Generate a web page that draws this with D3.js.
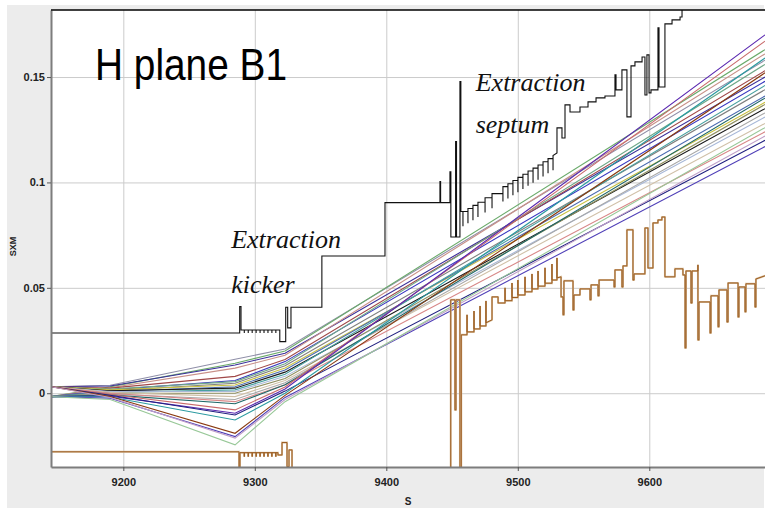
<!DOCTYPE html>
<html>
<head>
<meta charset="utf-8">
<script src="https://cdn.jsdelivr.net/npm/d3@7"></script>
<style>
  body { margin: 0; background: #fff; }
  svg { display: block; }
</style>
</head>
<body>
<div id="chart"></div>
<script>
// ---------- data ----------
const xTicks = [9200, 9300, 9400, 9500, 9600];
const yTicks = [0, 0.05, 0.1, 0.15];
const yTickLabels = ['0', '0.05', '0.1', '0.15'];

// orbit bundle: values of each trajectory at these s positions
const orbitS = [9145, 9190, 9285, 9323, 9688];
const orbitValues = [
  [0.0031, 0.0038, 0.0161, 0.021, 0.158],
  [-0.0016, 0.0030, 0.0142, 0.020, 0.163],
  [0.0031, 0.0034, 0.0134, 0.019, 0.150],
  [-0.0016, 0.0026, 0.0119, 0.018, 0.161],
  [0.0031, 0.0024, 0.0080, 0.016, 0.153],
  [-0.0016, 0.0016, 0.0060, 0.015, 0.148],
  [0.0031, 0.0020, 0.0055, 0.014, 0.156],
  [-0.0016, 0.0012, 0.0047, 0.013, 0.144],
  [0.0031, 0.0016, 0.0039, 0.012, 0.138],
  [-0.0016, 0.0008, 0.0031, 0.011, 0.141],
  [0.0031, 0.0012, 0.0024, 0.010, 0.135],
  [-0.0016, 0.0004, 0.0016, 0.009, 0.146],
  [0.0031, 0.0008, 0.0008, 0.008, 0.131],
  [-0.0016, 0.0000, 0.0000, 0.007, 0.137],
  [0.0031, 0.0004, -0.0016, 0.006, 0.128],
  [-0.0016, -0.0004, -0.0030, 0.005, 0.133],
  [0.0031, 0.0000, -0.0040, 0.004, 0.124],
  [-0.0016, -0.0008, -0.0050, 0.004, 0.140],
  [0.0031, -0.0006, -0.0079, 0.003, 0.167],
  [-0.0016, -0.0014, -0.0095, 0.002, 0.170],
  [0.0031, -0.0010, -0.0103, 0.001, 0.120],
  [-0.0016, -0.0018, -0.0127, 0.000, 0.159],
  [0.0031, -0.0016, -0.0190, -0.001, 0.152],
  [-0.0016, -0.0024, -0.0206, -0.002, 0.117],
  [0.0031, -0.0020, -0.0213, -0.003, 0.122],
  [-0.0016, -0.0030, -0.0245, -0.004, 0.126]
];
const orbitColors = [
  '#8f8fa8', '#6aaa6a', '#3b2f9a', '#c89088', '#a04848', '#3838c0',
  '#70a888', '#7f7f7f', '#c8c040', '#4a6ab0', '#1a1a1a', '#48a0a0',
  '#a8b8d8', '#909060', '#d0c0a8', '#a8a8a8', '#d88888', '#206868',
  '#c86a6a', '#5a28b0', '#202080', '#2a9aa0', '#8a3a10', '#5040b8',
  '#c0a0c8', '#98c898'
];

// upper aperture (black): step vertices [s, y] and comb teeth [s, level, tip]
const blackStart = [[9145, 0.0286], [9288.5, 0.0286], [9288.5, 0.0411], [9289.5, 0.0411], [9289.5, 0.0300]];
const blackKickerTeeth = [
  [9292, 0.030, 0.0286], [9295, 0.030, 0.0286], [9298, 0.030, 0.0286], [9301, 0.030, 0.0286],
  [9304, 0.030, 0.0286], [9307, 0.030, 0.0286], [9310, 0.030, 0.0286], [9313, 0.030, 0.0286],
  [9316, 0.030, 0.0286]
];
const blackMid = [
  [9319, 0.030], [9319, 0.0245], [9323.5, 0.0245], [9323.5, 0.0408], [9325, 0.0408], [9325, 0.031],
  [9327.5, 0.031], [9327.5, 0.0408], [9351, 0.0408], [9351, 0.0651], [9399, 0.0651], [9399, 0.0904],
  [9440.8, 0.0904], [9440.8, 0.1004], [9441.3, 0.1004], [9441.3, 0.0904], [9448.4, 0.0904],
  [9448.4, 0.1051], [9449.1, 0.1051], [9449.1, 0.0741], [9452.7, 0.0741], [9452.7, 0.1194],
  [9453.4, 0.1194], [9453.4, 0.0741], [9456, 0.0741], [9456, 0.1478], [9456.7, 0.1478], [9456.7, 0.0862]
];
const blackSeptumTeeth = [
  [9458.3, 0.0862, 0.0792], [9462.1, 0.0876, 0.0806], [9465.9, 0.0891, 0.0821], [9469.7, 0.0906, 0.0836],
  [9475.1, 0.0927, 0.0857], [9480.4, 0.0947, 0.0877], [9488.7, 0.0980, 0.0910], [9492.5, 0.0994, 0.0924],
  [9496.3, 0.1009, 0.0939], [9500.1, 0.1024, 0.0954], [9503.9, 0.1039, 0.0969], [9507.8, 0.1054, 0.0984],
  [9511.6, 0.1068, 0.0998], [9515.4, 0.1083, 0.1013], [9519.2, 0.1098, 0.1028], [9523.0, 0.1113, 0.1043],
  [9526.8, 0.1128, 0.1058]
];
const blackEnd = [
  [9529.8, 0.1140], [9529.8, 0.1259], [9533.6, 0.1259], [9533.6, 0.1211], [9535.9, 0.1211], [9535.9, 0.1368],
  [9539.7, 0.1368], [9539.7, 0.1334], [9547.3, 0.1334], [9547.3, 0.1358], [9553.4, 0.1358], [9553.4, 0.1382],
  [9559.5, 0.1382], [9559.5, 0.1401], [9566.3, 0.1401], [9566.3, 0.1410], [9573.9, 0.1410], [9573.9, 0.1510],
  [9574.7, 0.1510], [9574.7, 0.1439], [9579.2, 0.1439], [9579.2, 0.1534], [9583.0, 0.1534], [9583.0, 0.1311],
  [9586.1, 0.1311], [9586.1, 0.1553], [9589.1, 0.1553], [9589.1, 0.1572], [9594.5, 0.1572], [9594.5, 0.1595],
  [9596.7, 0.1595], [9596.7, 0.1415], [9598.2, 0.1415], [9598.2, 0.1605], [9599.8, 0.1605], [9599.8, 0.1425],
  [9601.3, 0.1425], [9601.3, 0.1439], [9606.6, 0.1439], [9606.6, 0.1733], [9607.4, 0.1733], [9607.4, 0.1453],
  [9611.9, 0.1453], [9611.9, 0.1752], [9617.3, 0.1752], [9617.3, 0.1771], [9623.4, 0.1771], [9623.4, 0.1785],
  [9624.9, 0.1785], [9624.9, 0.19], [9688, 0.19]
];

// lower aperture (brown)
const brownStart = [[9145, -0.0278], [9288.0, -0.0278], [9288.0, -0.040], [9288.7, -0.040], [9288.7, -0.0282]];
const brownKickerTeeth = [
  [9292, -0.0282, -0.0301], [9295, -0.0282, -0.0301], [9298, -0.0282, -0.0301], [9301, -0.0282, -0.0301],
  [9304, -0.0282, -0.0301], [9307, -0.0282, -0.0301], [9310, -0.0282, -0.0301], [9313, -0.0282, -0.0301],
  [9316, -0.0282, -0.0301]
];
const brownMid = [
  [9317.6, -0.0282], [9317.6, -0.0293], [9320.7, -0.0293], [9320.7, -0.0234], [9324.5, -0.0234],
  [9324.5, -0.0349], [9326.0, -0.0349], [9326.0, -0.0269], [9328.3, -0.0269], [9328.3, -0.06],
  [9449.0, -0.06], [9449.0, 0.0443], [9452.2, 0.0443], [9452.2, -0.0079], [9453.0, -0.0079],
  [9453.0, 0.0443], [9456.0, 0.0443], [9456.0, -0.06], [9457.0, -0.06], [9457.0, 0.0277]
];
const brownTeethA = [
  [9461.4, 0.0291, 0.0372], [9466.7, 0.0305, 0.0390], [9471.3, 0.0319, 0.0414], [9475.8, 0.0334, 0.0438]
];
const brownBox = [[9480.4, 0.0348], [9480.4, 0.0457], [9485.0, 0.0457], [9485.0, 0.0428]];
const brownTeethB = [
  [9490.3, 0.0439, 0.0500], [9495.6, 0.0454, 0.0523], [9500.1, 0.0466, 0.0537], [9505.5, 0.0481, 0.0552],
  [9510.8, 0.0495, 0.0566], [9515.4, 0.0508, 0.0580], [9520.7, 0.0522, 0.0595], [9526.0, 0.0537, 0.0613],
  [9529.8, 0.0547, 0.0642]
];
const brownEnd = [
  [9532.9, 0.0552], [9532.9, 0.0457], [9534.4, 0.0457], [9534.4, 0.0372], [9535.1, 0.0372], [9535.1, 0.0533],
  [9542.0, 0.0533], [9542.0, 0.0395], [9542.7, 0.0395], [9542.7, 0.0466], [9547.3, 0.0466], [9547.3, 0.0495],
  [9554.9, 0.0495], [9554.9, 0.0443], [9555.7, 0.0443], [9555.7, 0.0514], [9561.0, 0.0514], [9561.0, 0.0462],
  [9561.8, 0.0462], [9561.8, 0.0537], [9573.2, 0.0537], [9573.2, 0.0504], [9573.9, 0.0504], [9573.9, 0.0585],
  [9579.2, 0.0585], [9579.2, 0.0504], [9580.0, 0.0504], [9580.0, 0.0604], [9583.0, 0.0604], [9583.0, 0.0775],
  [9587.6, 0.0775], [9587.6, 0.0537], [9588.4, 0.0537], [9588.4, 0.0566], [9596.7, 0.0566], [9596.7, 0.0784],
  [9599.0, 0.0784], [9599.0, 0.0594], [9602.8, 0.0594], [9602.8, 0.0808], [9606.6, 0.0808], [9606.6, 0.0822],
  [9609.6, 0.0822], [9609.6, 0.0836], [9611.9, 0.0836], [9611.9, 0.0552], [9619.5, 0.0552], [9619.5, 0.0590],
  [9625.6, 0.0590], [9625.6, 0.0561], [9627.2, 0.0561], [9627.2, 0.0215], [9627.9, 0.0215], [9627.9, 0.0580],
  [9631.7, 0.0580], [9631.7, 0.0428], [9632.5, 0.0428], [9632.5, 0.0580], [9637.0, 0.0580], [9637.0, 0.0609],
  [9637.0, 0.0253], [9637.8, 0.0253], [9637.8, 0.0433], [9646.2, 0.0433], [9646.2, 0.0286], [9646.9, 0.0286],
  [9646.9, 0.0462], [9652.3, 0.0462], [9652.3, 0.0315], [9653.0, 0.0315], [9653.0, 0.0490], [9659.1, 0.0490],
  [9659.1, 0.0338], [9659.9, 0.0338], [9659.9, 0.0523], [9667.5, 0.0523], [9667.5, 0.0362], [9668.2, 0.0362],
  [9668.2, 0.0504], [9672.8, 0.0504], [9672.8, 0.0386], [9673.5, 0.0386], [9673.5, 0.0519], [9680.4, 0.0519],
  [9680.4, 0.0409], [9681.1, 0.0409], [9681.1, 0.0542], [9688, 0.0557]
];

// annotations (data coordinates of the text anchors)
const notes = [
  { text: 'Extraction', s: 9282, y: 0.0687 },
  { text: 'kicker', s: 9282, y: 0.0474 },
  { text: 'Extraction', s: 9468, y: 0.1432 },
  { text: 'septum', s: 9468, y: 0.1235 }
];

// ---------- chart ----------
const width = 765;
const height = 508;
const margin = { top: 10, right: 0, bottom: 41, left: 51 };

const usableArea = {
  top: margin.top,
  right: width - margin.right,
  bottom: height - margin.bottom,
  left: margin.left,
  width: width - margin.left - margin.right,
  height: height - margin.top - margin.bottom,
};

const svg = d3.select('#chart').append('svg')
  .attr('width', width)
  .attr('height', height);

// gray panel behind everything
svg.append('rect')
  .attr('x', 7).attr('y', 5)
  .attr('width', width - 8).attr('height', height - 5)
  .attr('fill', '#ececec');

svg.append('rect')
  .attr('x', usableArea.left).attr('y', usableArea.top)
  .attr('width', usableArea.width).attr('height', usableArea.height)
  .attr('fill', '#fff');

const xScale = d3.scaleLinear()
  .domain([9145, 9688])
  .range([usableArea.left, usableArea.right]);

const yScale = d3.scaleLinear()
  .domain([-0.035, 0.1818])
  .range([usableArea.bottom, usableArea.top]);

svg.append('clipPath').attr('id', 'plot-clip')
  .append('rect')
  .attr('x', usableArea.left).attr('y', usableArea.top)
  .attr('width', usableArea.width).attr('height', usableArea.height);

// gridlines
const grid = svg.append('g').attr('class', 'gridlines');
grid.append('g')
  .attr('transform', `translate(0, ${usableArea.bottom})`)
  .call(d3.axisBottom(xScale).tickValues(xTicks).tickSize(-usableArea.height).tickFormat(''));
grid.append('g')
  .attr('transform', `translate(${usableArea.left}, 0)`)
  .call(d3.axisLeft(yScale).tickValues(yTicks).tickSize(-usableArea.width).tickFormat(''));
grid.selectAll('.domain').remove();
grid.selectAll('line').attr('stroke', '#cbcbcb').attr('stroke-width', 1);

const plot = svg.append('g').attr('clip-path', 'url(#plot-clip)');

const line = d3.line()
  .x((d) => xScale(d[0]))
  .y((d) => yScale(d[1]));

// orbit trajectories
plot.append('g').attr('class', 'orbits')
  .selectAll('path')
  .data(orbitValues)
  .join('path')
  .attr('d', (vals) => line(vals.map((v, i) => [orbitS[i], v])))
  .attr('fill', 'none')
  .attr('stroke', (d, i) => orbitColors[i])
  .attr('stroke-width', 1.1);

// join step segments and comb teeth into one vertex list
function buildPath(parts) {
  const pts = [];
  parts.forEach(([kind, arr]) => {
    if (kind === 'steps') {
      arr.forEach((p) => pts.push(p));
    } else {
      arr.forEach(([s, level, tip]) => {
        const prev = pts[pts.length - 1][1];
        pts.push([s, prev], [s, tip], [s, level]);
      });
    }
  });
  return pts;
}

const blackPts = buildPath([
  ['steps', blackStart], ['teeth', blackKickerTeeth], ['steps', blackMid],
  ['teeth', blackSeptumTeeth], ['steps', blackEnd]
]);
const brownPts = buildPath([
  ['steps', brownStart], ['teeth', brownKickerTeeth], ['steps', brownMid],
  ['teeth', brownTeethA], ['steps', brownBox], ['teeth', brownTeethB], ['steps', brownEnd]
]);

plot.append('path')
  .attr('d', line(brownPts))
  .attr('fill', 'none')
  .attr('stroke', '#dcc3a3')
  .attr('stroke-width', 2);
plot.append('path')
  .attr('d', line(brownPts))
  .attr('fill', 'none')
  .attr('stroke', '#9a5a1e')
  .attr('stroke-width', 1);

plot.append('path')
  .attr('d', line(blackPts))
  .attr('fill', 'none')
  .attr('stroke', '#111')
  .attr('stroke-width', 1.1);

// axes
const xAxis = svg.append('g')
  .attr('transform', `translate(0, ${usableArea.bottom})`)
  .call(d3.axisBottom(xScale).tickValues(xTicks).tickSize(4).tickPadding(7).tickSizeOuter(0)
    .tickFormat(d3.format('d')));
const yAxis = svg.append('g')
  .attr('transform', `translate(${usableArea.left}, 0)`)
  .call(d3.axisLeft(yScale).tickValues(yTicks).tickSize(4).tickPadding(2).tickSizeOuter(0)
    .tickFormat((d, i) => yTickLabels[i]));

[xAxis, yAxis].forEach((ax) => {
  ax.select('.domain').attr('stroke', '#7d7d7d').attr('stroke-width', 2);
  ax.selectAll('.tick line').attr('stroke', '#555');
  ax.selectAll('.tick text')
    .attr('fill', '#222')
    .style('font-family', '"Liberation Sans", Arial, sans-serif')
    .style('font-weight', 'bold')
    .style('font-size', '11px');
});

// top border
svg.append('line')
  .attr('x1', usableArea.left).attr('x2', usableArea.right)
  .attr('y1', usableArea.top).attr('y2', usableArea.top)
  .attr('stroke', '#000').attr('stroke-width', 1.5);

// axis titles
svg.append('text')
  .attr('x', usableArea.left + usableArea.width / 2)
  .attr('y', 505)
  .attr('text-anchor', 'middle')
  .style('font-family', '"Liberation Sans", Arial, sans-serif')
  .style('font-weight', 'bold')
  .style('font-size', '10px')
  .attr('fill', '#222')
  .text('S');

svg.append('text')
  .attr('transform', `translate(16, ${usableArea.top + usableArea.height / 2 + 8}) rotate(-90)`)
  .attr('text-anchor', 'middle')
  .style('font-family', '"Liberation Sans", Arial, sans-serif')
  .style('font-weight', 'bold')
  .style('font-size', '9px')
  .attr('fill', '#222')
  .text('SXM');

// title inside the plot
svg.append('text')
  .attr('x', 95)
  .attr('y', 80)
  .attr('textLength', 192)
  .attr('lengthAdjust', 'spacingAndGlyphs')
  .style('font-family', '"Liberation Sans", Arial, sans-serif')
  .style('font-size', '44px')
  .attr('fill', '#000')
  .text('H plane B1');

// annotations
svg.append('g').selectAll('text')
  .data(notes)
  .join('text')
  .attr('x', (d) => xScale(d.s))
  .attr('y', (d) => yScale(d.y))
  .style('font-family', '"Liberation Serif", "DejaVu Serif", serif')
  .style('font-style', 'italic')
  .style('font-size', '26px')
  .attr('fill', '#111')
  .text((d) => d.text);
</script>
</body>
</html>
